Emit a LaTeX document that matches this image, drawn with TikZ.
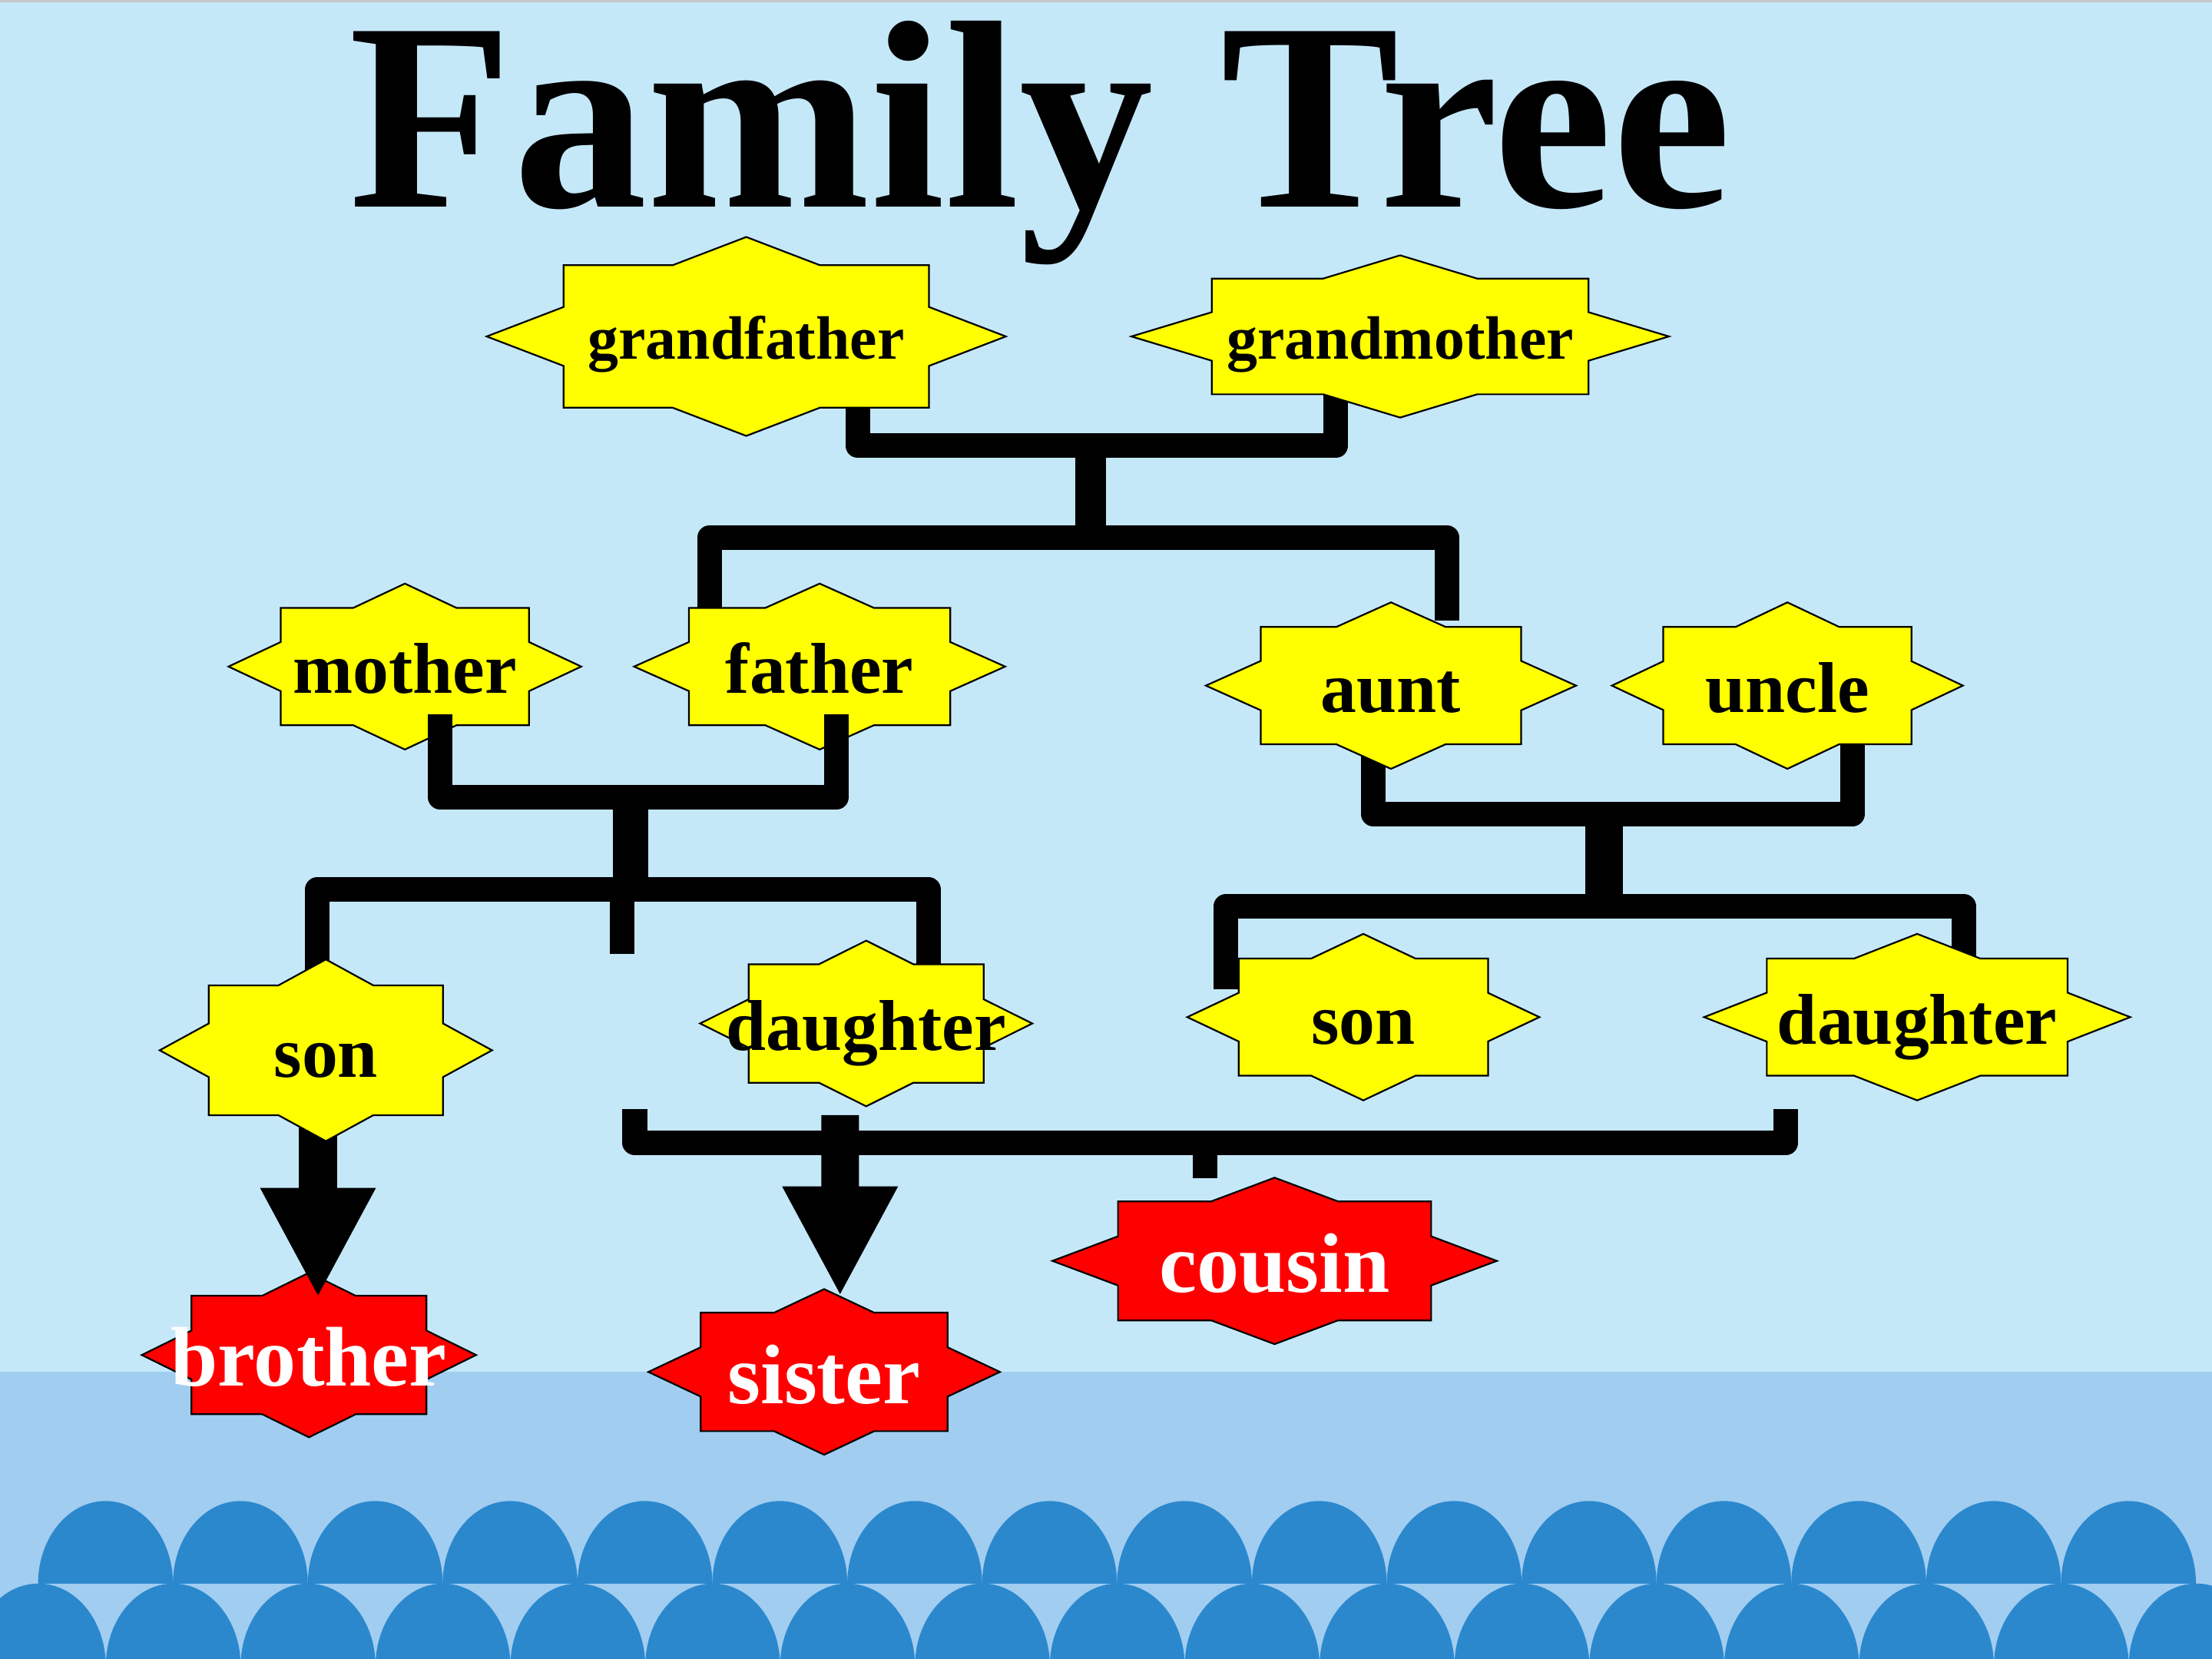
\documentclass[tikz,border=0pt]{standalone}
\usepackage{fontspec}
\setmainfont{Liberation Serif}
\usetikzlibrary{arrows.meta,calc}
\definecolor{skyblue}{RGB}{197,232,249}
\definecolor{seablue}{RGB}{161,205,241}
\definecolor{waveblue}{RGB}{43,136,205}
\definecolor{staryellow}{RGB}{255,255,0}
\definecolor{starred}{RGB}{255,0,0}
\pgfdeclarelayer{background}
\pgfdeclarelayer{lowstars}
\pgfdeclarelayer{lines}
\pgfdeclarelayer{stars}
\pgfsetlayers{background,lowstars,lines,stars,main}
% star behind a node: rectangle a x b joined with a rhombus A x B
\newcommand{\kinstar}[7][stars]{%
  \begin{pgfonlayer}{#1}
    \pgfmathsetmacro{\kinix}{#5*(1-#4/#6)}%
    \pgfmathsetmacro{\kiniy}{#6*(1-#3/#5)}%
    \filldraw[starline,fill=#7,shift={(#2)}]
      (#5,0) -- (#3,\kiniy) -- (#3,#4) -- (\kinix,#4) -- (0,#6)
      -- (-\kinix,#4) -- (-#3,#4) -- (-#3,\kiniy) -- (-#5,0)
      -- (-#3,-\kiniy) -- (-#3,-#4) -- (-\kinix,-#4) -- (0,-#6)
      -- (\kinix,-#4) -- (#3,-#4) -- (#3,-\kiniy) -- cycle;
  \end{pgfonlayer}}

\begin{document}
\begin{tikzpicture}[x=0.5pt,y=-0.5pt,
    starline/.style={draw=black,line width=0.6pt},
    bar/.style={line width=8.75pt,line join=round},
    trunk/.style={line width=#1},
    descent/.style={line width=13.35pt,-{Triangle[width=38pt,length=39pt]}},
    elder/.style={font=\fontsize{21.7}{24}\selectfont\bfseries,
      text height=16pt,text depth=0pt,inner sep=0pt},
    kin/.style={font=\fontsize{25.5}{28}\selectfont\bfseries,
      text height=18.9pt,text depth=0pt,inner sep=0pt},
    sib/.style={font=\fontsize{30}{33}\selectfont\bfseries,text=white,
      text height=22.2pt,text depth=0pt,inner sep=0pt}]
  \useasboundingbox (0,0) rectangle (1568,1176);

  % --- sky, sea and waves ---
  \begin{pgfonlayer}{background}
    \fill[skyblue] (0,0) rectangle (1568,1176);
    \fill[gray!45] (0,0) rectangle (1568,1.8);
    \fill[seablue] (0,972.4) rectangle (1568,1176);
    \foreach \k in {0,...,15} {
      \pgfmathsetmacro{\wl}{27+95.6*\k}
      \pgfmathsetmacro{\wr}{\wl+95.6}
      \pgfmathsetmacro{\wc}{\wl+47.8}
      \fill[waveblue] (\wl,1122.5) .. controls (\wl,1090.2) and (\wc-26.4,1064)
        .. (\wc,1064) .. controls (\wc+26.4,1064) and (\wr,1090.2) .. (\wr,1122.5) -- cycle;
    }
    \foreach \k in {0,...,16} {
      \pgfmathsetmacro{\wl}{-20.6+95.6*\k}
      \pgfmathsetmacro{\wr}{\wl+95.6}
      \pgfmathsetmacro{\wc}{\wl+47.8}
      \fill[waveblue] (\wl,1181) .. controls (\wl,1148.7) and (\wc-26.4,1122.5)
        .. (\wc,1122.5) .. controls (\wc+26.4,1122.5) and (\wr,1148.7) .. (\wr,1181) -- cycle;
    }
  \end{pgfonlayer}

  % --- title ---
  \node[font=\fontsize{95}{100}\selectfont\bfseries,anchor=base,inner sep=0pt]
    (title) at (737.5,147) {Family Tree};

  % --- grandparents ---
  \node[elder] (gfather) at (529,238.5) {grandfather};
  \kinstar{gfather}{129.5}{50.5}{184}{70.5}{staryellow}
  \node[elder] (gmother) at (992.5,238.5) {grandmother};
  \kinstar{gmother}{133.5}{41}{190.5}{57.5}{staryellow}

  % --- parents, aunt and uncle ---
  \node[kin] (mother) at (287,472.5) {mother};
  \kinstar{mother}{88}{41.6}{125}{58.8}{staryellow}
  \node[kin] (father) at (581,472.5) {father};
  \kinstar{father}{92.6}{41.6}{131.5}{58.8}{staryellow}
  \node[kin] (aunt) at (986,486) {aunt};
  \kinstar{aunt}{92.3}{41.6}{131.2}{59}{staryellow}
  \node[kin] (uncle) at (1267,486) {uncle};
  \kinstar{uncle}{88}{41.6}{124.4}{59}{staryellow}

  % --- children ---
  \node[kin] (son) at (231,744.5) {son};
  \kinstar{son}{83}{46}{117.8}{64.4}{staryellow}
  \node[kin] (daughter) at (614,725.5) {daughter};
  \kinstar{daughter}{83.3}{42}{117.7}{58.7}{staryellow}
  \node[kin] (cson) at (966.4,721) {son};
  \kinstar{cson}{88.4}{41.5}{124.8}{59}{staryellow}
  \node[kin] (cdaughter) at (1359,721) {daughter};
  \kinstar{cdaughter}{106.6}{41.5}{151}{59}{staryellow}

  % --- relations ---
  \node[sib] (brother) at (219,960.5) {brother};
  \kinstar[lowstars]{brother}{83.3}{42}{118.5}{58.3}{starred}
  \node[sib] (sister) at (584.2,972.5) {sister};
  \kinstar[lowstars]{sister}{87.5}{42}{124.6}{58.7}{starred}
  \node[sib] (cousin) at (903.5,893.8) {cousin};
  \kinstar[lowstars]{cousin}{111}{42.2}{157.5}{59}{starred}

  % --- tree lines ---
  \coordinate (gp) at (773,316);
  \coordinate (gpkids) at (773,381);
  \coordinate (mf) at (447,565);
  \coordinate (mfkids) at (447,630.5);
  \coordinate (mfstub) at (441,676);
  \coordinate (au) at (1137,577);
  \coordinate (aukids) at (1137,642.6);
  \coordinate (cl) at (450,786);
  \coordinate (cj) at (854,810);
  \coordinate (cr) at (1266,786);
  \begin{pgfonlayer}{lines}
    \draw[bar] ($(gfather)+(79,50)$) |- (gp) -| ($(gmother)+(-45.5,40)$);
    \draw[trunk=11pt] (gp) -- (gpkids);
    \draw[bar] ($(father)+(-78,-41.5)$) |- (gpkids) -| ($(aunt)+(39.5,-46)$);
    % aunt and uncle
    \draw[bar] ($(aunt)+(-12.5,44)$) |- (au) -| ($(uncle)+(46,41.5)$);
    \draw[trunk=13.25pt] (au) -- (aukids);
    \draw[bar] ($(cson)+(-97.4,-20)$) |- (aukids) -| ($(cdaughter)+(33,-41)$);
    % mother and father
    \draw[trunk=12.5pt] (mf) -- (mfkids);
    \draw[bar] ($(son)+(-6,-54)$) |- (mfkids) -| ($(daughter)+(44,-41.5)$);
    \draw[bar] (mfstub |- mfkids) -- (mfstub);
    % cousins
    \draw[bar] (cl) |- (cj) -| (cr);
    \draw[bar] (cj) -- ($(cousin)+(-49.5,-58.8)$);
    % arrows
    \draw[descent] ($(son)+(-5.6,50)$) -- ($(brother)+(6.4,-40.5)$);
    \draw[descent] ($(daughter)+(-18.5,65)$) -- ($(sister)+(11.3,-53.5)$);
  \end{pgfonlayer}
  \draw[bar] ($(mother)+(25,34)$) |- (mf) -| ($(father)+(12,34)$);
\end{tikzpicture}
\end{document}
